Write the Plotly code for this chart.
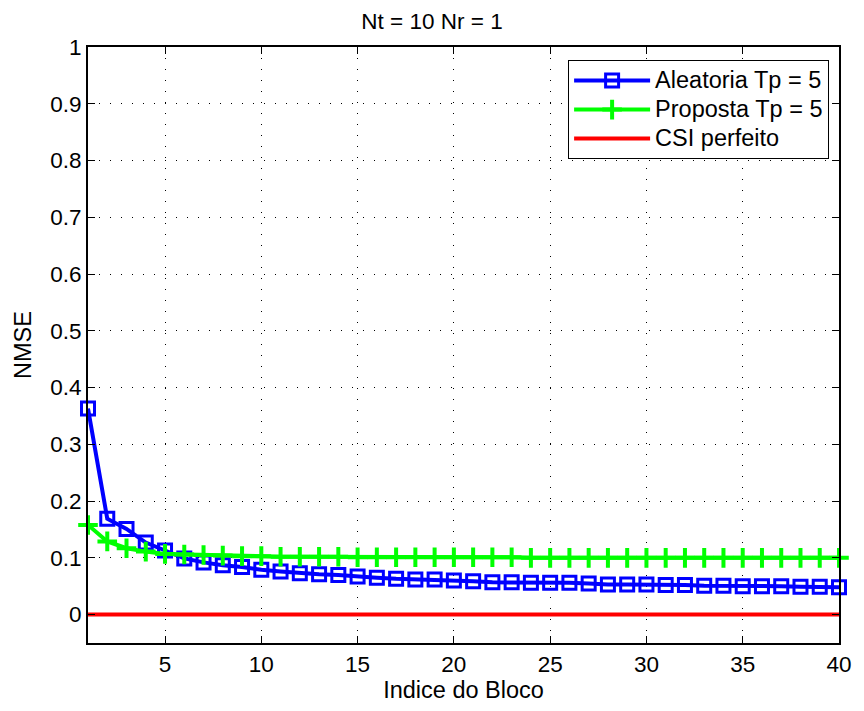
import plotly.graph_objects as go

blocks = list(range(1, 41))
aleatoria = [0.363, 0.169, 0.151, 0.127, 0.113, 0.099, 0.092, 0.087, 0.084, 0.079,
             0.076, 0.073, 0.071, 0.070, 0.067, 0.065, 0.063, 0.062, 0.062, 0.060,
             0.059, 0.057, 0.057, 0.056, 0.056, 0.056, 0.055, 0.053, 0.053, 0.053,
             0.052, 0.052, 0.051, 0.051, 0.050, 0.050, 0.050, 0.049, 0.049, 0.048]
proposta = [0.158, 0.129, 0.117, 0.111, 0.107, 0.106, 0.105, 0.104, 0.103, 0.103,
            0.102, 0.102, 0.102, 0.102, 0.101, 0.101, 0.101, 0.101, 0.101, 0.101,
            0.101, 0.101, 0.101, 0.100, 0.100, 0.100, 0.100, 0.100, 0.100, 0.100,
            0.100, 0.100, 0.100, 0.100, 0.100, 0.100, 0.100, 0.100, 0.100, 0.100]
csi = [0.0] * 40

series_names = ["Aleatoria Tp = 5", "Proposta Tp = 5", "CSI perfeito"]
x_ticks = [5, 10, 15, 20, 25, 30, 35, 40]
y_ticks = [0, 0.1, 0.2, 0.3, 0.4, 0.5, 0.6, 0.7, 0.8, 0.9, 1]
y_labels = ["0", "0.1", "0.2", "0.3", "0.4", "0.5", "0.6", "0.7", "0.8", "0.9", "1"]

FONT = "Liberation Sans, Arial, Helvetica, sans-serif"


def legend_name(text):
    return '<span style="font-size:23.5px">' + text + '</span>'


fig = go.Figure()
fig.add_trace(go.Scatter(
    x=blocks, y=csi, mode="lines", name=legend_name(series_names[2]),
    line=dict(color="#ff0000", width=4), cliponaxis=False, legendrank=3,
))
fig.add_trace(go.Scatter(
    x=blocks, y=aleatoria, mode="lines+markers", name=legend_name(series_names[0]),
    line=dict(color="#0000ff", width=4), cliponaxis=False, legendrank=1,
    marker=dict(symbol="square-open", size=13, color="#0000ff",
                line=dict(color="#0000ff", width=3)),
))
fig.add_trace(go.Scatter(
    x=blocks, y=proposta, mode="lines+markers", name=legend_name(series_names[1]),
    line=dict(color="#00ff00", width=4), cliponaxis=False, legendrank=2,
    marker=dict(symbol="cross-thin", size=14, color="#00ff00",
                line=dict(color="#00ff00", width=4)),
))

axis_common = dict(
    showline=True, linecolor="black", linewidth=2, mirror="ticks",
    ticks="inside", ticklen=7, tickcolor="black", tickwidth=1,
    showgrid=True, gridcolor="black", gridwidth=1, griddash="1px,10px",
    zeroline=False, tickfont=dict(family=FONT, size=22.5, color="black"),
)

fig.update_layout(
    width=864, height=711,
    paper_bgcolor="white", plot_bgcolor="white",
    margin=dict(l=88, r=17, t=47, b=65),
    title=dict(text="Nt = 10 Nr = 1", x=0.5, xanchor="center", y=1 - 21 / 711, yanchor="middle",
               font=dict(family=FONT, size=22.5, color="black")),
    xaxis=dict(range=[1, 40], tickvals=x_ticks,
               title=dict(text="Indice do Bloco", standoff=6,
                          font=dict(family=FONT, size=23.5, color="black")),
               **axis_common),
    yaxis=dict(range=[-0.05, 1], tickvals=y_ticks, ticktext=y_labels,
               title=dict(text="NMSE", standoff=12,
                          font=dict(family=FONT, size=23.5, color="black")),
               **axis_common),
    legend=dict(x=(837 - 88) / (864 - 88 - 17), y=0.978, xanchor="right", yanchor="top",
                bgcolor="white", bordercolor="black", borderwidth=1,
                font=dict(family=FONT, size=20, color="black"),
                itemwidth=76, tracegroupgap=0, traceorder="normal"),
    showlegend=True,
)

fig.write_html("out.html", config={"displayModeBar": False},
               post_script="document.body.style.margin='0';document.body.style.overflow='hidden';")
